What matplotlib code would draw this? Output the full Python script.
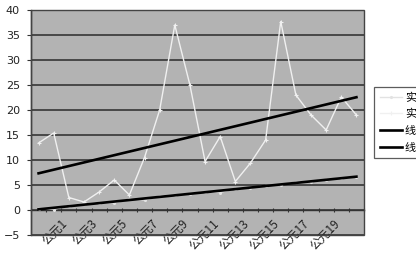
import numpy as np
import matplotlib
matplotlib.use("Agg")
import matplotlib.pyplot as plt
import matplotlib.transforms as mtransforms
from matplotlib.patches import Rectangle

plt.rcParams['font.family'] = ['Noto Sans CJK SC', 'DejaVu Sans']

# ---- data ----
categories = [f"公元{i}" for i in range(0, 22)]
series_low = [0.3, 0.1, 0.9, 1.2, 1.5, 1.4, 2.2, 2.0, 2.8, 3.0, 3.3,
              3.6, 3.5, 4.3, 4.4, 4.9, 5.0, 5.6, 5.7, 6.1, 6.4, 6.6]
series_high = [13.4, 15.4, 2.5, 1.6, 3.6, 6.0, 3.0, 10.5, 20.0, 37.0, 25.0,
               9.7, 14.7, 5.7, 9.4, 14.0, 37.7, 23.0, 19.0, 16.0, 22.6, 19.0]
legend_labels = ["实际值", "实际值2", "线性 (实际值)", "线性 (实际值2)"]
yticks = [-5, 0, 5, 10, 15, 20, 25, 30, 35, 40]

x = np.arange(len(categories))

fig = plt.figure(figsize=(4.16, 2.57), dpi=100)
ax = fig.add_axes([31/416, 1-235/257, (364-31)/416, (235-10)/257])
ax.set_facecolor('#b3b3b3')

# gridlines
ax.set_ylim(-5, 40)
ax.set_xlim(-0.5, len(categories)-0.5)
ax.set_yticks(yticks)
ax.yaxis.grid(True, color='#2a2a2a', linewidth=1.1)
ax.set_axisbelow(True)

# data series
l1, = ax.plot(x, series_low, color='#e2e2e2', linewidth=1.0, marker='.', markersize=2.5, zorder=3)
l2, = ax.plot(x, series_high, color='#f0f0f0', linewidth=1.0, marker='+', markersize=3.5,
              markeredgewidth=0.8, zorder=3)

# linear trendlines computed from the data
p1 = np.polyfit(x, series_low, 1)
p2 = np.polyfit(x, series_high, 1)
t1, = ax.plot(x, np.polyval(p1, x), color='black', linewidth=1.9, zorder=4)
t2, = ax.plot(x, np.polyval(p2, x), color='black', linewidth=1.9, zorder=4)

# spines / axes
for s in ['top', 'right']:
    ax.spines[s].set_visible(False)
ax.spines['left'].set_color('#333333')
ax.spines['left'].set_linewidth(1.0)
ax.spines['bottom'].set_position(('data', 0))
ax.spines['bottom'].set_color('#333333')
ax.spines['bottom'].set_linewidth(1.0)
ax.add_patch(Rectangle((0, 0), 1, 1, transform=ax.transAxes, fill=False,
                       edgecolor='#444444', linewidth=1.0, zorder=5, clip_on=False))

# x ticks at category boundaries, labels every other category
ax.set_xticks(np.arange(len(categories)+1) - 0.5)
ax.set_xticklabels([])
ax.tick_params(axis='x', which='major', length=3, width=0.8, color='#333333', direction='inout')
lab_idx = list(range(1, 20, 2))
ax.set_xticks(lab_idx, minor=True)
ax.set_xticklabels([categories[i] for i in lab_idx], minor=True, rotation=45,
                   ha='right', va='top', rotation_mode='anchor', fontsize=8.5, color='#222222')
ax.tick_params(axis='x', which='minor', length=0, pad=5)
offset = mtransforms.ScaledTranslation(7/100, 0, fig.dpi_scale_trans)
for lbl in ax.get_xticklabels(minor=True):
    lbl.set_transform(lbl.get_transform() + offset)

ax.tick_params(axis='y', length=3, width=0.8, color='#333333', labelsize=8, pad=5, labelcolor='#222222')
for lbl in ax.get_yticklabels():
    lbl.set_fontfamily(['DejaVu Sans'])

leg = fig.legend([l1, l2, t1, t2], legend_labels, loc='upper left',
                 bbox_to_anchor=(374/416, 1-87/257), frameon=True, fancybox=False,
                 fontsize=8, handlelength=2.0, handletextpad=0.3, borderpad=0.5,
                 labelspacing=0.5, borderaxespad=0)
leg.get_frame().set_edgecolor('#333333')
leg.get_frame().set_linewidth(0.9)

fig.savefig('out.png', dpi=100)
